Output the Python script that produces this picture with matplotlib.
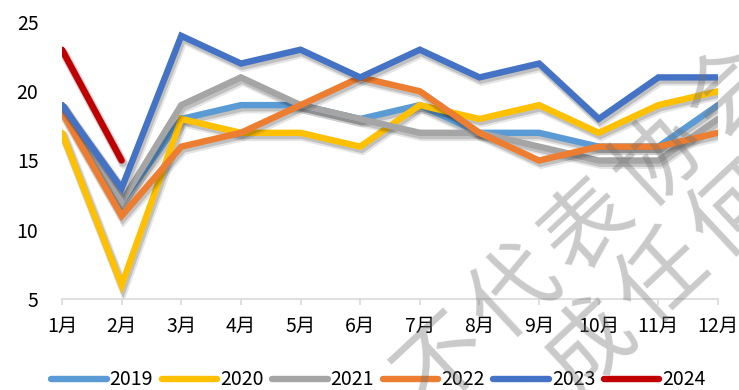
import matplotlib
matplotlib.use("Agg")
import matplotlib.pyplot as plt
import matplotlib.patheffects as pe

plt.rcParams['font.family'] = ['Noto Sans CJK SC', 'DejaVu Sans']

months = ["1月", "2月", "3月", "4月", "5月", "6月", "7月", "8月", "9月", "10月", "11月", "12月"]
years = ["2019", "2020", "2021", "2022", "2023", "2024"]

v2019 = [19, 12, 18, 19, 19, 18, 19, 17, 17, 16, 16, 19]
v2020 = [17, 6, 18, 17, 17, 16, 19, 18, 19, 17, 19, 20]
v2021 = [19, 12, 19, 21, 19, 18, 17, 17, 16, 15, 15, 18]
v2022 = [18.5, 11, 16, 17, 19, 21, 20, 17, 15, 16, 16, 17]
v2023 = [19, 13, 24, 22, 23, 21, 23, 21, 22, 18, 21, 21]
v2024 = [23, 15]

series = [v2019, v2020, v2021, v2022, v2023, v2024]
colors = ["#5B9BD5", "#FFC000", "#A5A5A5", "#ED7D31", "#4472C4", "#C00000"]

W, H = 739, 390
fig = plt.figure(figsize=(W / 100, H / 100), dpi=100)
ax = fig.add_axes([62 / W, 1 - 299 / H, (718 - 62) / W, (299 - 22) / H])

lw = 4.6
shadow = [
    pe.SimpleLineShadow(offset=(1.5, -2.5), shadow_color="black", alpha=0.10, linewidth=lw + 2.5),
    pe.SimpleLineShadow(offset=(1.0, -1.8), shadow_color="black", alpha=0.16, linewidth=lw + 1),
    pe.Normal(),
]

for label, vals, c in zip(years, series, colors):
    ax.plot(range(len(vals)), vals, color=c, lw=lw, label=label,
            solid_capstyle="round", solid_joinstyle="miter",
            path_effects=shadow)

ax.set_xlim(0, len(months) - 1)
ax.set_ylim(5, 25)
ax.set_yticks([5, 10, 15, 20, 25])
ax.set_xticks(range(len(months)))
ax.set_xticklabels(months)

for s in ["top", "right", "left"]:
    ax.spines[s].set_visible(False)
ax.spines["bottom"].set_color("#D9D9D9")
ax.spines["bottom"].set_linewidth(1.2)

ax.tick_params(axis="x", direction="out", length=4, width=1.2, color="#D9D9D9",
               labelsize=14, pad=8, labelcolor="#000000")
ax.tick_params(axis="y", length=0, labelsize=14, pad=17, labelcolor="#000000")

leg = fig.legend(loc="center", bbox_to_anchor=(0.512, 0.026), ncol=6, frameon=False,
                 fontsize=14, handlelength=2.85, handletextpad=0.15, columnspacing=0.45)
for h in leg.get_lines():
    h.set_linewidth(lw)
    h.set_solid_capstyle("round")
    h.set_path_effects([])

# diagonal watermark
wm_color = (0.45, 0.45, 0.45, 0.38)
line1 = [("不", 444, 363), ("代", 516, 295), ("表", 588, 227), ("协", 660, 159), ("会", 732, 91)]
line2 = [("成", 591, 347), ("任", 663, 279), ("何", 735, 211)]
for ch, x, y in line1 + line2:
    fig.text(x / W, 1 - y / H, ch, fontsize=64, fontweight="medium", color=wm_color,
             rotation=43, ha="center", va="center", rotation_mode="anchor", zorder=10)

fig.savefig("out.png", dpi=100)
